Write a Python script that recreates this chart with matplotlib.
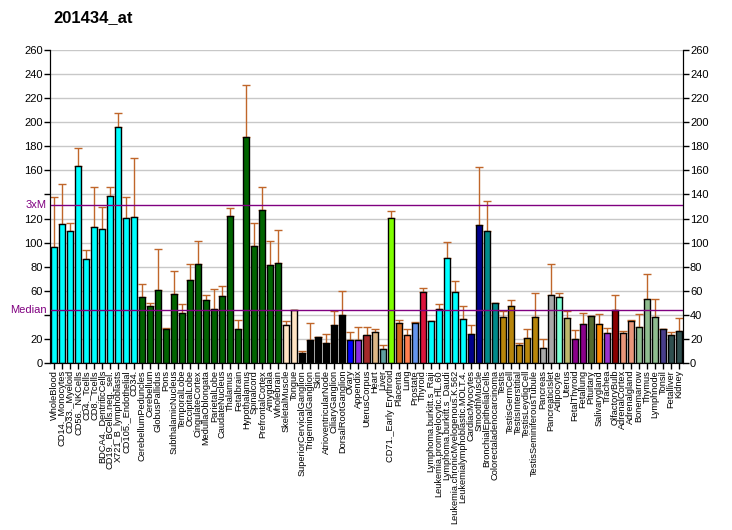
import numpy as np
import matplotlib
matplotlib.use("Agg")
import matplotlib.pyplot as plt

plt.rcParams["font.family"] = ["Liberation Sans", "DejaVu Sans"]

labels = [
    "WholeBlood", "CD14._Monocytes", "CD33._Myeloid", "CD56._NKCells", "CD4._Tcells",
    "CD8._Tcells", "BDCA4._DentriticCells", "CD19._BCells.neg._sel.", "X721_B_lymphoblasts",
    "CD105._Endothelial", "CD34.", "CerebellumPeduncles", "Cerebellum", "GlobusPallidus",
    "Pons", "SubthalamicNucleus", "TemporalLobe", "OccipitalLobe", "CingulateCortex",
    "MedullaOblongata", "ParietalLobe", "CaudateNucleus", "Thalamus", "Fetalbrain",
    "Hypothalamus", "Spinalcord", "PrefrontalCortex", "Amygdala", "Wholebrain",
    "SkeletalMuscle", "Tongue", "SuperiorCervicalGanglion", "TrigeminalGanglion", "Skin",
    "AtrioventricularNode", "CiliaryGanglion", "DorsalRootGanglion", "Ovary", "Appendix",
    "UterusCorpus", "Heart", "Liver", "CD71._Early Erythroid", "Placenta", "Lung",
    "Prostate", "Thyroid", "Lymphoma.burkitt.s_Raji", "Leukemia.promyelocytic.HL.60",
    "Lymphoma.burkitt.s_Daudi", "Leukemia.chronicMyelogenous.K.562",
    "Leukemialymphoblastic.MOLT.4.", "CardiacMyocytes", "SmoothMuscle",
    "BronchialEpithelialCells", "Colorectaladenocarcinoma", "Testis", "TestisGermCell",
    "TestisInterstitial", "TestisLeydigCell", "TestisSeminiferousTubule", "Pancreas",
    "PancreaticIslet", "Adipocyte", "Uterus", "FetalThyroid", "Fetallung", "Pituitary",
    "Salivarygland", "Trachea", "OlfactoryBulb", "AdrenalCortex", "Adrenalgland",
    "Bonemarrow", "Thymus", "Lymphnode", "Tonsil", "Fetalliver", "Kidney",
]

values = [
    96.1, 115.2, 109.4, 163.4, 86.1, 112.7, 111.0, 138.5, 195.7, 120.2, 121.0,
    54.6, 47.1, 60.4, 28.0, 57.0, 41.3, 68.7, 82.0, 52.0, 44.6, 55.4, 121.8, 28.0,
    187.5, 97.0, 126.8, 81.1, 82.8,
    31.3, 43.8,
    8.3, 18.8, 21.3, 16.6, 31.3, 39.6,
    18.8, 18.8, 23.0, 25.5, 11.4, 120.2, 33.0, 23.0, 33.0, 58.7,
    34.6, 44.6, 87.0, 58.7, 36.3, 23.8, 114.4, 109.4, 49.6,
    38.0, 47.1, 14.7, 20.5, 38.0, 12.2, 56.2, 54.6, 37.1, 19.7, 32.1, 38.8,
    32.1, 24.7, 43.8, 24.7, 34.6, 29.6, 52.9, 38.0, 28.0, 23.0, 26.3,
]

err_top = [
    137.6, 149.0, 116.0, 179.0, 93.6, 146.0, 129.3, 146.0, 207.4, 137.6, 170.0,
    65.4, 49.6, 94.4, 28.8, 76.2, 48.8, 82.0, 101.0, 56.2, 61.2, 63.7, 128.5, 35.5,
    230.6, 116.0, 146.0, 101.0, 110.2,
    34.6, 43.8,
    9.7, 33.0, 21.3, 23.8, 43.0, 59.5,
    25.5, 29.6, 29.6, 28.0, 14.7, 126.0, 35.5, 28.0, 33.8, 62.0,
    34.6, 48.8, 100.2, 67.9, 47.1, 31.3, 162.5, 134.3, 49.6,
    43.0, 52.0, 16.3, 28.0, 57.9, 19.7, 82.0, 57.9, 43.0, 27.2, 41.3, 38.8,
    40.4, 28.8, 56.2, 26.3, 35.5, 40.4, 73.7, 52.9, 28.0, 25.5, 37.1,
]

colors = (
    ["#00FFFF"] * 11 + ["#006400"] * 18 + ["#FFE4C4"] * 2 + ["#000000"] * 6
    + ["#0000FF", "#8A2BE2", "#A52A2A", "#DEB887", "#5F9EA0", "#7FFF00", "#D2691E",
       "#FF7F50", "#6495ED", "#DC143C"]
    + ["#00FFFF"] * 5 + ["#00008B"] * 2 + ["#008B8B"] * 2 + ["#B8860B"] * 5
    + ["#A9A9A9"] * 2 + ["#7FFFD4", "#BDB76B"] + ["#8B008B"] * 2
    + ["#556B2F", "#FF8C00", "#9932CC", "#8B0000"] + ["#E9967A"] * 2
    + ["#8FBC8F"] * 3 + ["#483D8B"] + ["#2F4F4F"] * 2
)

median = 43.7
three_m = 131.1

fig = plt.figure(figsize=(7.32, 5.30), dpi=100)
ax = fig.add_axes([50 / 732, 1 - 363 / 530, 633 / 732, 313 / 530])

x = np.arange(len(values))
vals = np.array(values)
up = np.array(err_top) - vals

for yg in range(20, 261, 20):
    ax.axhline(yg, color="#C8C8C8", lw=1, zorder=0)

ax.errorbar(x, vals, yerr=[np.zeros_like(up), up], fmt="none", ecolor="#C0662A",
            elinewidth=1, capsize=3, capthick=1, zorder=1)
ax.bar(x, vals, width=0.75, color=colors, edgecolor="black", linewidth=1, zorder=2)

ax.axhline(three_m, color="#800080", lw=1, zorder=3)
ax.axhline(median, color="#800080", lw=1, zorder=3)

ax.set_xlim(-0.5, len(values) - 0.5)
ax.set_ylim(0, 260)
ax.set_xticks(x)
ax.set_xticklabels(labels, rotation=90, fontsize=6.7)

yt = list(range(0, 261, 20))
ax.set_yticks(yt)
ax.set_yticklabels(["" if v in (40, 140) else str(v) for v in yt], fontsize=8)
ax.tick_params(axis="both", direction="out", length=4, width=1, pad=1)

ax2 = ax.twinx()
ax2.set_ylim(0, 260)
ax2.set_yticks(yt)
ax2.set_yticklabels([str(v) for v in yt], fontsize=8)
ax2.tick_params(axis="y", direction="out", length=4, width=1, pad=1)

# purple marker labels on the left axis
ax.text(-0.9, three_m, "3xM", color="#800080", fontsize=8, ha="right", va="center")
ax.text(-0.9, median, "Median", color="#800080", fontsize=8, ha="right", va="center")

for a in (ax, ax2):
    a.spines["top"].set_visible(False)

fig.text(53 / 732, 1 - 18 / 530, "201434_at", fontsize=12, fontweight="bold",
         ha="left", va="center")

fig.savefig("out.png", dpi=100)
